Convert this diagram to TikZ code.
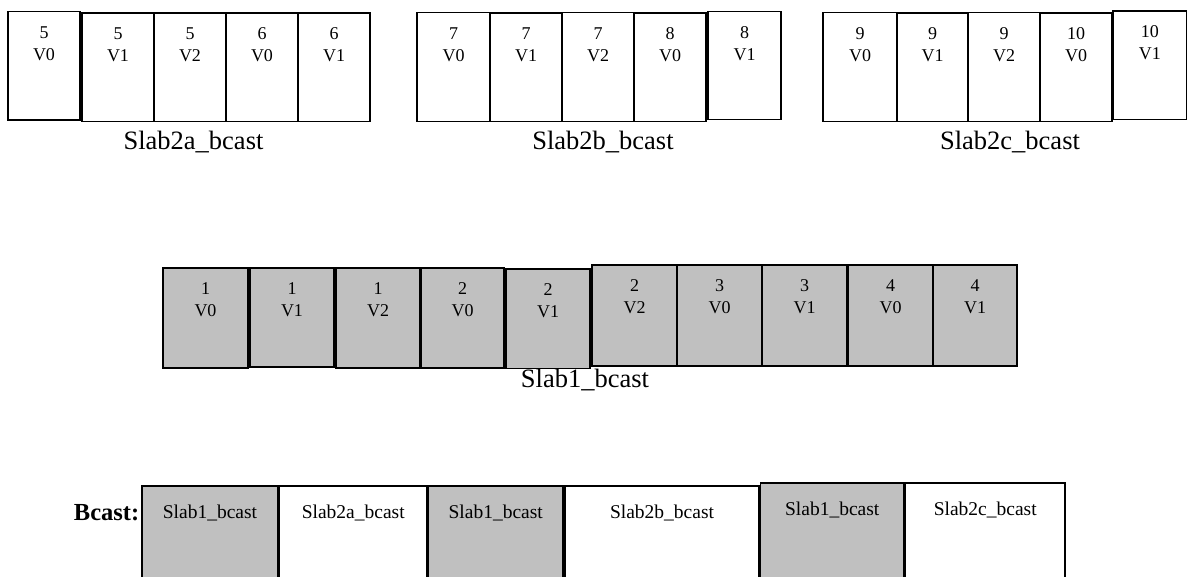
\documentclass[tikz,border=0pt]{standalone}
\usepackage{fontspec}
\setmainfont{Liberation Serif}
\usetikzlibrary{calc}
\definecolor{boxgray}{HTML}{C0C0C0}
\tikzset{
  cellbox/.style={draw=black, line width=1.8pt, inner sep=0pt, outer sep=0pt, anchor=north west},
  cellnum/.style={font=\fontsize{18}{21}\selectfont, anchor=base, inner sep=0pt},
  slablabel/.style={font=\fontsize{26.5}{31}\selectfont, anchor=base, inner sep=0pt},
  bottext/.style={font=\fontsize{19.5}{23}\selectfont, anchor=base, inner sep=0pt},
}
\newcommand{\mkcell}[8]{%
  \node[cellbox, fill=#8, minimum width={(#4-#2)*1pt}, minimum height={(#5-#3)*1pt}] (#1) at (#2,#3) {};
  \node[cellnum] (#1n) at ($(#1.north)+(0,27)$) {#6};
  \node[cellnum] (#1v) at ($(#1.north)+(0,49)$) {#7};
}
\newcommand{\mkbot}[6]{%
  \node[cellbox, fill=#5, minimum width={(#4-#2)*1pt}, minimum height={(600-#3)*1pt}] (#1) at (#2,#3) {};
  \node[bottext] (#1t) at ($(#1.north)+(0,32)$) {#6};
}
\begin{document}
\begin{tikzpicture}[x=1pt,y=-1pt]
\path[use as bounding box] (0,0) rectangle (1189,577);
\clip (0,0) rectangle (1189,577);
% group a
\mkcell{a1}{8}{11.5}{80}{120}{5}{V0}{white}
\mkcell{a2}{82}{13}{154}{121.5}{5}{V1}{white}
\mkcell{a3}{154}{13}{226}{121.5}{5}{V2}{white}
\mkcell{a4}{226}{13}{298}{121.5}{6}{V0}{white}
\mkcell{a5}{298}{13}{370}{121.5}{6}{V1}{white}
\node[slablabel] (la) at (193.5,149.5) {Slab2a\_bcast};
% group b
\mkcell{b1}{417}{12.5}{490}{121.5}{7}{V0}{white}
\mkcell{b2}{490}{13}{562}{121.5}{7}{V1}{white}
\mkcell{b3}{562}{12.5}{634}{121.5}{7}{V2}{white}
\mkcell{b4}{634}{13}{706}{121.5}{8}{V0}{white}
\mkcell{b5}{708}{11.5}{781}{119.5}{8}{V1}{white}
\node[slablabel] (lb) at (603,149.5) {Slab2b\_bcast};
% group c
\mkcell{c1}{823}{12.5}{897}{121.5}{9}{V0}{white}
\mkcell{c2}{897}{13}{968}{121.5}{9}{V1}{white}
\mkcell{c3}{968}{12.5}{1040}{121.5}{9}{V2}{white}
\mkcell{c4}{1040}{13}{1112}{121.5}{10}{V0}{white}
\mkcell{c5}{1113}{11}{1186.5}{119.5}{10}{V1}{white}
\node[slablabel] (lc) at (1010,149.5) {Slab2c\_bcast};
% middle row
\mkcell{m1}{163}{268}{248}{368}{1}{V0}{boxgray}
\mkcell{m2}{250}{268}{334}{367}{1}{V1}{boxgray}
\mkcell{m3}{336}{268}{420}{368}{1}{V2}{boxgray}
\mkcell{m4}{421}{268}{504}{368}{2}{V0}{boxgray}
\mkcell{m5}{506}{269}{590}{368.5}{2}{V1}{boxgray}
\mkcell{m6}{592}{265}{677}{366}{2}{V2}{boxgray}
\mkcell{m7}{677}{265}{762}{366}{3}{V0}{boxgray}
\mkcell{m8}{762}{265}{847}{366}{3}{V1}{boxgray}
\mkcell{m9}{848}{265}{933}{366}{4}{V0}{boxgray}
\mkcell{m10}{933}{265}{1017}{366}{4}{V1}{boxgray}
\node[slablabel] (lm) at (585,387) {Slab1\_bcast};
% bottom row
\node[font=\bfseries\fontsize{24.5}{28}\selectfont, anchor=base east, inner sep=0pt] (bc) at (139.5,520) {Bcast:};
\mkbot{q1}{142}{486}{278}{boxgray}{Slab1\_bcast}
\mkbot{q2}{279.5}{486}{427}{white}{Slab2a\_bcast}
\mkbot{q3}{428.5}{486}{563}{boxgray}{Slab1\_bcast}
\mkbot{q4}{565}{486}{759}{white}{Slab2b\_bcast}
\mkbot{q5}{760.5}{483}{904}{boxgray}{Slab1\_bcast}
\mkbot{q6}{905.5}{483}{1065}{white}{Slab2c\_bcast}
\end{tikzpicture}
\end{document}
